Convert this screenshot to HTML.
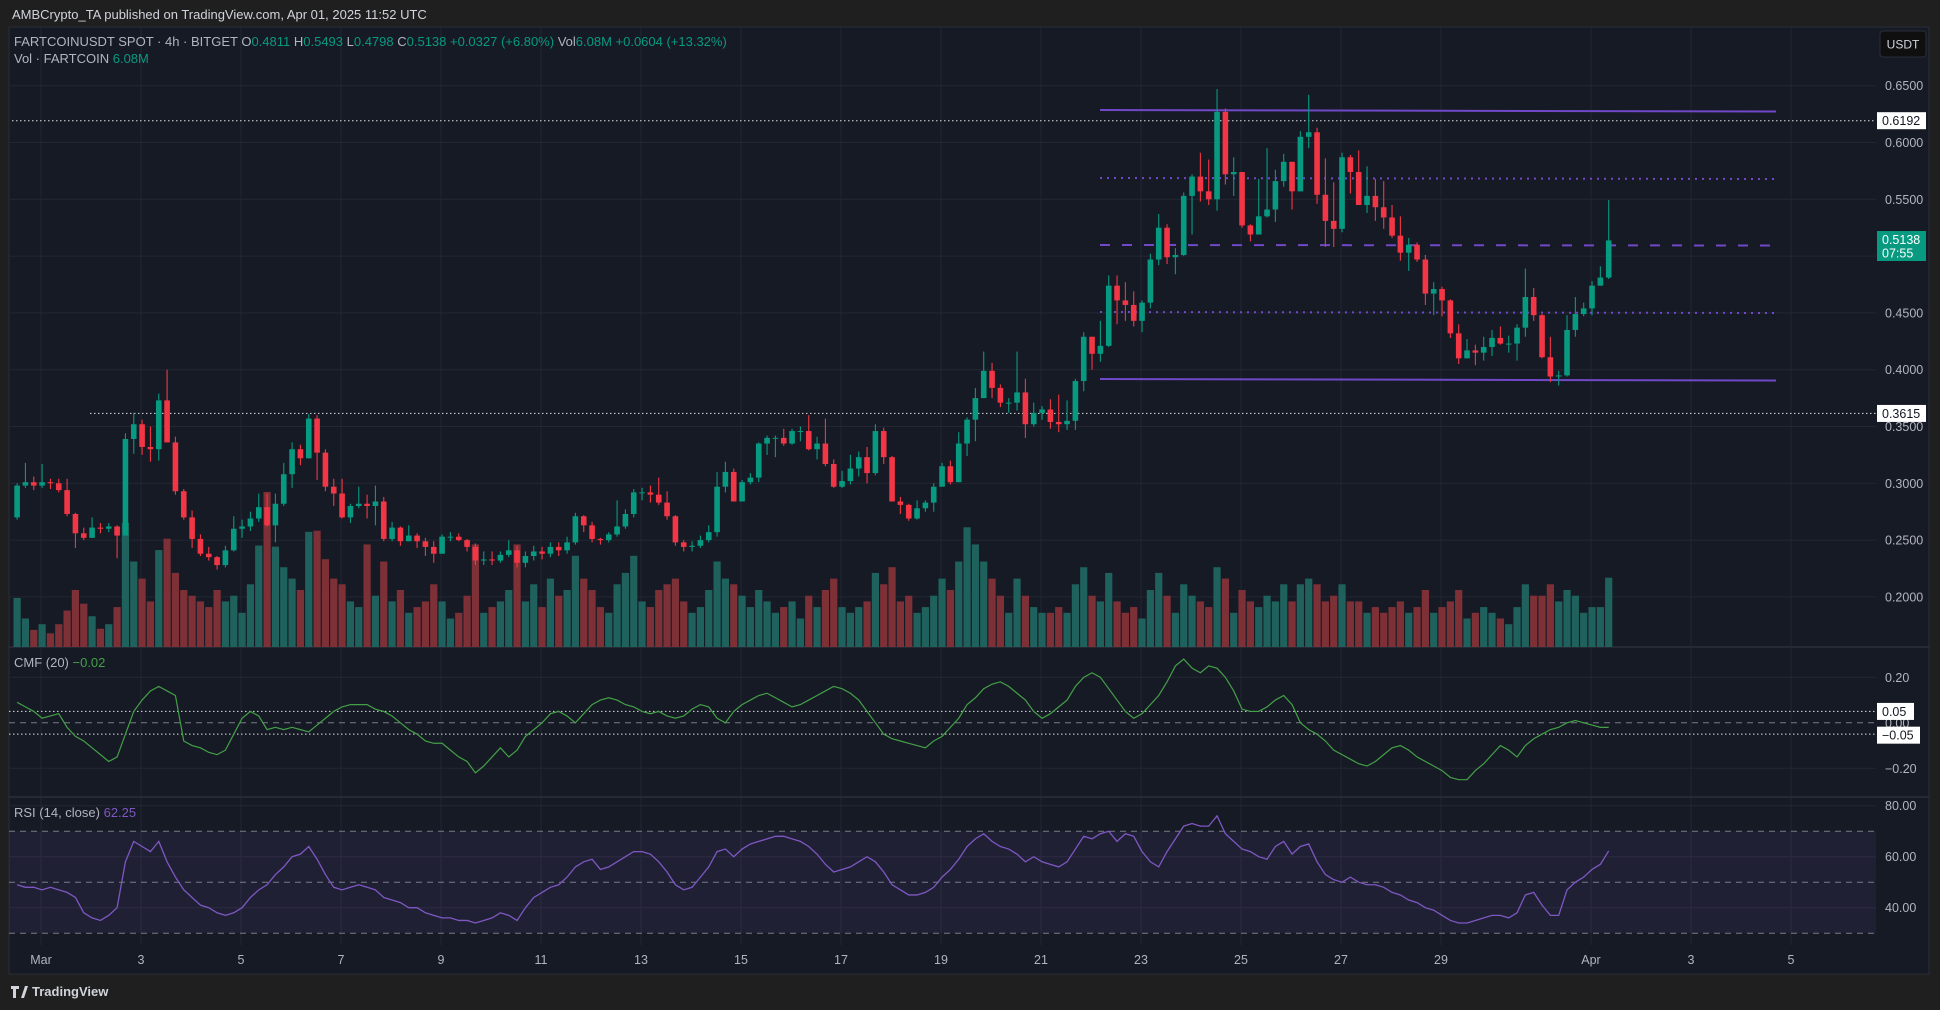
<!DOCTYPE html>
<html><head><meta charset="utf-8">
<style>
body{margin:0;background:#1f1f1f;width:1940px;height:1010px;overflow:hidden;font-family:"Liberation Sans",sans-serif;}
svg{position:absolute;left:0;top:0}
</style></head>
<body>
<svg id="chart" width="1940" height="1010" xmlns="http://www.w3.org/2000/svg"></svg>
<script>
const closes=[.298,.301,.298,.301,.300,.294,.273,.256,.252,.261,.260,.262,.254,.339,.352,.332,.330,.373,.336,.293,.270,.251,.238,.235,.228,.241,.260,.262,.269,.279,.263,.282,.308,.330,.322,.357,.327,.297,.291,.270,.280,.282,.280,.284,.251,.261,.249,.254,.249,.244,.238,.253,.253,.250,.244,.232,.233,.232,.237,.241,.230,.236,.240,.238,.244,.241,.248,.271,.263,.251,.250,.255,.262,.273,.292,.292,.290,.283,.271,.248,.244,.245,.250,.257,.297,.310,.284,.301,.305,.335,.340,.340,.335,.346,.346,.330,.335,.317,.297,.302,.313,.323,.309,.346,.323,.284,.281,.269,.278,.283,.297,.315,.301,.335,.356,.375,.399,.384,.371,.371,.380,.352,.362,.365,.354,.352,.355,.390,.429,.414,.421,.474,.461,.457,.443,.459,.497,.525,.499,.501,.553,.570,.557,.550,.627,.572,.574,.527,.519,.535,.541,.566,.583,.557,.605,.609,.554,.531,.524,.587,.574,.545,.553,.543,.534,.518,.503,.510,.497,.467,.471,.461,.432,.410,.417,.415,.420,.428,.423,.423,.437,.464,.448,.411,.394,.395,.435,.449,.454,.474,.4811,.5138];
const firstOpen=.270;
const highs=[.300,.318,.306,.317,.304,.304,.304,.274,.261,.270,.265,.265,.263,.344,.362,.356,.350,.379,.400,.341,.295,.276,.255,.244,.236,.245,.271,.268,.275,.291,.291,.291,.318,.336,.334,.361,.360,.330,.304,.304,.282,.297,.290,.298,.288,.266,.262,.263,.256,.252,.249,.255,.257,.256,.251,.247,.240,.240,.240,.250,.245,.240,.245,.244,.248,.248,.253,.274,.272,.266,.252,.257,.285,.277,.295,.296,.298,.305,.293,.272,.250,.249,.254,.263,.310,.319,.313,.303,.309,.336,.342,.342,.348,.348,.350,.360,.341,.357,.321,.311,.325,.328,.332,.352,.349,.324,.288,.282,.285,.285,.300,.318,.320,.345,.358,.384,.416,.406,.387,.375,.416,.392,.371,.368,.374,.378,.373,.392,.433,.429,.443,.483,.483,.477,.469,.461,.502,.537,.528,.507,.556,.572,.591,.585,.647,.630,.587,.574,.528,.568,.595,.576,.590,.583,.610,.642,.613,.586,.565,.591,.589,.593,.579,.568,.566,.545,.535,.516,.512,.501,.477,.473,.462,.440,.427,.422,.429,.435,.438,.430,.440,.489,.472,.449,.429,.399,.448,.464,.459,.478,.491,.5493];
const lows=[.268,.296,.294,.296,.295,.292,.271,.243,.250,.252,.256,.257,.234,.254,.326,.325,.319,.320,.336,.290,.268,.243,.236,.232,.224,.226,.240,.252,.258,.266,.262,.248,.280,.296,.316,.322,.303,.293,.280,.269,.265,.278,.269,.263,.249,.249,.245,.249,.243,.236,.230,.238,.249,.249,.240,.228,.228,.228,.230,.235,.226,.226,.232,.233,.235,.236,.238,.246,.257,.248,.246,.248,.253,.260,.270,.285,.283,.281,.268,.245,.240,.240,.243,.248,.253,.292,.284,.284,.299,.301,.325,.323,.333,.334,.337,.329,.321,.315,.296,.296,.299,.306,.300,.307,.317,.284,.273,.267,.268,.275,.275,.297,.299,.301,.324,.337,.375,.375,.367,.362,.364,.340,.350,.356,.348,.345,.347,.347,.381,.400,.407,.420,.440,.443,.438,.433,.454,.492,.493,.484,.500,.519,.548,.545,.540,.563,.553,.525,.513,.519,.534,.530,.561,.541,.557,.595,.546,.508,.508,.521,.555,.545,.538,.531,.524,.516,.496,.487,.495,.457,.448,.447,.428,.405,.410,.404,.408,.412,.422,.415,.408,.429,.443,.410,.389,.386,.394,.429,.447,.448,.474,.4798];
const volumes=[4.3,2.5,1.5,2.0,1.2,2.0,3.2,5.0,3.8,2.7,1.6,2.0,3.5,10.9,7.5,6.0,4.0,8.5,9.5,6.5,5.0,4.5,4.0,3.5,5.0,4.0,4.5,3.0,5.5,8.9,13.6,8.8,7.0,6.0,5.0,10.1,10.2,7.7,6.0,5.5,4.0,3.5,9.0,4.5,7.5,4.0,5.0,3.0,3.5,4.0,5.5,4.0,2.5,3.0,4.5,9.0,3.0,3.5,4.0,5.0,9.0,4.0,5.5,3.5,6.0,4.5,5.0,8.0,6.0,5.0,3.5,3.0,5.5,6.5,8.0,4.0,3.5,5.0,5.5,6.0,4.0,3.0,3.5,5.0,7.5,6.0,5.5,4.5,3.5,5.0,4.0,3.0,3.5,4.0,2.5,4.5,3.5,5.0,6.0,3.5,3.0,3.5,4.0,6.5,5.5,7.0,4.0,4.5,3.0,3.5,4.5,6.0,5.0,7.5,10.5,9.0,7.5,6.0,4.5,3.0,6.0,4.5,3.5,3.0,3.0,3.5,3.0,5.5,7.0,4.5,4.0,6.5,4.0,3.0,3.5,2.5,5.0,6.5,4.5,3.0,5.5,4.5,4.0,3.5,7.0,6.0,3.0,5.0,4.0,3.5,4.5,4.0,5.5,4.0,5.5,6.0,5.5,4.0,4.5,5.5,4.0,4.0,3.0,3.5,3.0,3.5,4.0,3.0,3.5,5.0,3.0,3.5,4.0,5.0,2.5,3.0,3.5,3.0,2.5,2.0,3.5,5.5,4.5,4.5,5.5,4.0,5.0,4.5,3.0,3.5,3.5,6.08];
const cmfValues=[.09,.07,.05,.02,.03,.04,-.02,-.06,-.08,-.11,-.14,-.17,-.15,-.05,.05,.10,.14,.16,.14,.12,-.08,-.10,-.11,-.13,-.14,-.12,-.05,.02,.05,.03,-.03,-.02,-.03,-.02,-.03,-.04,-.01,.02,.05,.07,.08,.08,.08,.06,.05,.03,.00,-.03,-.05,-.08,-.09,-.09,-.12,-.15,-.17,-.22,-.19,-.15,-.11,-.15,-.12,-.06,-.03,.00,.04,.05,.03,.00,.04,.08,.10,.11,.10,.08,.07,.05,.04,.05,.03,.02,.03,.06,.08,.07,.02,.00,.05,.08,.10,.12,.13,.11,.09,.07,.08,.10,.12,.14,.16,.15,.13,.10,.05,.00,-.05,-.07,-.08,-.09,-.10,-.11,-.08,-.06,-.02,.02,.08,.11,.15,.17,.18,.16,.13,.10,.05,.02,.04,.07,.10,.16,.20,.22,.20,.15,.10,.05,.02,.04,.08,.12,.18,.25,.28,.24,.22,.25,.24,.20,.14,.06,.05,.05,.07,.10,.12,.08,.00,-.03,-.05,-.08,-.12,-.14,-.16,-.18,-.19,-.17,-.14,-.11,-.10,-.12,-.15,-.17,-.19,-.21,-.24,-.25,-.25,-.21,-.18,-.14,-.10,-.12,-.15,-.10,-.07,-.05,-.03,-.02,.00,.01,.00,-.01,-.02,-.02];
const rsiValues=[49,48,48,47,48,47,46,44,38,36,35,37,40,58,66,64,62,66,58,52,47,44,41,40,38,37,38,40,44,47,49,53,56,60,61,64,59,53,48,47,48,49,48,47,44,43,42,40,40,38,37,36,36,35,35,34,35,36,38,37,35,40,44,46,48,49,52,56,58,59,55,56,58,60,62,62,61,58,54,49,47,48,52,56,62,63,60,63,65,66,67,68,68,67,66,64,61,57,54,55,56,58,60,58,54,49,47,45,45,46,48,52,55,59,64,67,69,66,64,63,61,58,60,58,57,56,58,63,68,67,69,70,66,69,68,62,58,56,62,67,72,73,72,72,76,69,66,63,62,60,59,64,66,61,64,65,58,53,51,50,52,50,49,49,48,46,45,43,42,40,39,37,35,34,34,35,36,37,37,36,38,45,46,41,37,37,47,50,52,55,57,62.25];
const priceTicks=[0.65,0.60,0.55,0.50,0.45,0.40,0.35,0.30,0.25,0.20];
const dateLabels=["Mar","3","5","7","9","11","13","15","17","19","21","23","25","27","29","Apr","3","5"];
const dateDays=[1,3,5,7,9,11,13,15,17,19,21,23,25,27,29,32,34,36];
const cmfTicks=[0.20,0.00,-0.20];
const rsiTicks=[80,60,40];

const NS="http://www.w3.org/2000/svg";
const svg=document.getElementById('chart');
function mk(tag,attrs,parent){const e=document.createElementNS(NS,tag);for(const k in attrs)e.setAttribute(k,attrs[k]);(parent||svg).appendChild(e);return e;}
function tx(str,x,y,attrs){const e=mk('text',Object.assign({x:x,y:y,'font-size':12.5,fill:'#b2b5be','font-family':'Liberation Sans, sans-serif'},attrs||{}));e.textContent=str;return e;}

const L=9,R=1929,AX=1876,T=27,B=974;
const xOf=i=>17.1+8.333*i;
const yP=p=>85.7+(0.65-p)*1136;
const yV=v=>647-v*11.4;
const yC=v=>722.8-v*227.5;
const yR=v=>805.7+(80-v)*2.55;
const xDay=d=>41+(d-1)*50;

let e=tx("AMBCrypto_TA published on TradingView.com, Apr 01, 2025 11:52 UTC",12,19,{fill:'#d1d4dc','font-size':13});


e=mk('rect',{x:L,y:T,width:R-L,height:B-T,fill:'#161a25',stroke:'#2a2e39'});



priceTicks.forEach(p=>{const g=mk('line',{x1:L,x2:AX,y1:yP(p),y2:yP(p),stroke:'#232733'});

});
dateDays.forEach(d=>{const g=mk('line',{x1:xDay(d),x2:xDay(d),y1:T,y2:945,stroke:'#232733'});

});
[677.3,768.3].forEach(y=>{const g=mk('line',{x1:L,x2:AX,y1:y,y2:y,stroke:'#232733'});

});
rsiTicks.forEach(v=>{const g=mk('line',{x1:L,x2:AX,y1:yR(v),y2:yR(v),stroke:'#232733'});

});

[647,797].forEach(y=>{const s=mk('line',{x1:L,x2:R,y1:y,y2:y,stroke:'#2a2e39','stroke-width':1.5});

});

volumes.forEach((v,i)=>{const o=i?closes[i-1]:firstOpen;const up=closes[i]>=o;
const b=mk('rect',{x:xOf(i)-3.6,y:yV(v),width:7.2,height:647-yV(v),fill:up?'#1f615c':'#7e3037'});

});

e=mk('line',{x1:12,x2:AX,y1:yP(0.6192),y2:yP(0.6192),stroke:'#e0e0e0','stroke-dasharray':'1.5 2.5'});


e=mk('line',{x1:90,x2:AX,y1:yP(0.3615),y2:yP(0.3615),stroke:'#e0e0e0','stroke-dasharray':'1.5 2.5'});


e=mk('line',{x1:1100,x2:1776,y1:110,y2:111.5,stroke:'#7048c8','stroke-width':2});


e=mk('line',{x1:1100,x2:1776,y1:379,y2:380.5,stroke:'#7048c8','stroke-width':2});


e=mk('line',{x1:1100,x2:1776,y1:178,y2:179,stroke:'#7048c8','stroke-width':2,'stroke-dasharray':'2 5'});


e=mk('line',{x1:1100,x2:1770,y1:245,y2:245.5,stroke:'#7048c8','stroke-width':2,'stroke-dasharray':'10 12'});


e=mk('line',{x1:1100,x2:1776,y1:312,y2:313,stroke:'#7048c8','stroke-width':2,'stroke-dasharray':'2 5'});



closes.forEach((c,i)=>{const o=i?closes[i-1]:firstOpen;const up=c>=o;const col=up?'#089981':'#f23645';const x=xOf(i);
const w=mk('line',{x1:x,x2:x,y1:yP(highs[i]),y2:yP(lows[i]),stroke:col,'stroke-width':1.1});


const top=yP(Math.max(o,c)),h=Math.max(1,yP(Math.min(o,c))-top);
const b=mk('rect',{x:x-2.8,y:top,width:5.6,height:h,fill:col});

});

e=mk('line',{x1:L,x2:AX,y1:yC(0.05),y2:yC(0.05),stroke:'#e0e0e0','stroke-dasharray':'1.5 2.5'});


e=mk('line',{x1:L,x2:AX,y1:yC(0),y2:yC(0),stroke:'#787b86','stroke-dasharray':'6 5'});


e=mk('line',{x1:L,x2:AX,y1:yC(-0.05),y2:yC(-0.05),stroke:'#e0e0e0','stroke-dasharray':'1.5 2.5'});


e=mk('polyline',{points:cmfValues.map((v,i)=>xOf(i)+','+yC(v)).join(' '),fill:'none',stroke:'#43a047','stroke-width':1.2});



e=mk('rect',{x:L,y:yR(70),width:AX-L,height:yR(30)-yR(70),fill:'rgba(126,87,194,0.1)'});


[70,50,30].forEach(v=>{const l=mk('line',{x1:L,x2:AX,y1:yR(v),y2:yR(v),stroke:'#787b86','stroke-dasharray':'6 5'});

});
e=mk('polyline',{points:rsiValues.map((v,i)=>xOf(i)+','+yR(v)).join(' '),fill:'none',stroke:'#7e57c2','stroke-width':1.3});



priceTicks.forEach(p=>{const t=tx(p.toFixed(4),1885,yP(p)+4.5);

});
cmfTicks.forEach(v=>{const t=tx(v<0?'\u2212'+Math.abs(v).toFixed(2):v.toFixed(2),1885,yC(v)+4.5);

});
rsiTicks.forEach(v=>{const t=tx(v.toFixed(2),1885,yR(v)+4.5);

});
dateLabels.forEach((s,k)=>{const t=tx(s,xDay(dateDays[k]),964,{'text-anchor':'middle'});

});

function tag(label,y,bg,fg,w,name){const g=mk('g',{});


mk('rect',{x:1877,y:y-8.5,width:w,height:17,fill:bg},g);const t=mk('text',{x:1882,y:y+4.5,'font-size':12.5,fill:fg,'font-family':'Liberation Sans, sans-serif'},g);t.textContent=label;}
tag('0.6192',yP(0.6192),'#ffffff','#131722',49,'price-tag-0.6192');
tag('0.3615',yP(0.3615),'#ffffff','#131722',49,'price-tag-0.3615');
tag('0.05',yC(0.05),'#ffffff','#131722',37,'cmf-tag-upper');
tag('\u22120.05',yC(-0.05)+1,'#ffffff','#131722',43,'cmf-tag-lower');
e=mk('rect',{x:1877,y:231,width:49,height:30,fill:'#089981'});


e=tx('0.5138',1882,244,{fill:'#ffffff'});


e=tx('07:55',1882,257.5,{fill:'#ffffff'});


e=mk('rect',{x:1880,y:31,width:46,height:26,rx:3,fill:'#0f0f0f',stroke:'#2a2e39'});


e=tx('USDT',1903,48.5,{fill:'#d1d4dc','text-anchor':'middle','font-size':12});



function legend(parts,x,y,name){const t=mk('text',{x:x,y:y,'font-size':13,'font-family':'Liberation Sans, sans-serif'});


parts.forEach(p=>{const s=mk('tspan',{fill:p[1]},t);s.textContent=p[0];});}
const G='#089981',W='#b2b5be';
legend([["FARTCOINUSDT SPOT · 4h · BITGET  ",W],["O",W],["0.4811  ",G],["H",W],["0.5493  ",G],["L",W],["0.4798  ",G],["C",W],["0.5138  +0.0327 (+6.80%)  ",G],["Vol",W],["6.08M  +0.0604 (+13.32%)",G]],14,46,'ohlc-legend');
legend([["Vol · FARTCOIN  ",W],["6.08M",G]],14,63,'volume-legend');
legend([["CMF (20)  ",W],["−0.02",'#43a047']],14,667,'cmf-legend');
legend([["RSI (14, close)  ",W],["62.25",'#7e57c2']],14,817,'rsi-legend');

e=tx('TradingView',32,996,{fill:'#d1d4dc','font-size':13,'font-weight':'bold'});


e=mk('path',{d:'M11 986h8v3h-3v9h-3v-9h-2zM21 998l4-12h3l-4 12z',fill:'#d1d4dc'});


</script>
</body></html>
